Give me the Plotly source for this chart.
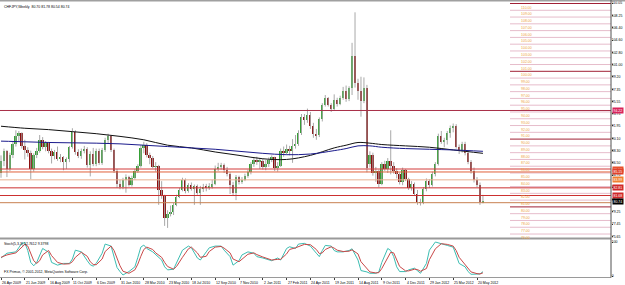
import pandas as pd
import plotly.graph_objects as go

# ---------------- data ----------------
FIRST_WEEK = "2009-04-26"
opens = [85.0, 86.8, 88.2, 85.6, 87.6, 89.3, 90.4, 90.9, 89.0, 88.4,
         88.0, 85.6, 87.6, 88.3, 89.9, 88.9, 89.4, 88.2, 87.5, 88.1,
         87.0, 87.3, 86.6, 87.0, 88.8, 91.1, 88.1, 87.5, 88.3, 88.6,
         86.2, 87.8, 86.4, 88.3, 86.5, 88.4, 89.9, 90.4, 88.4, 85.3,
         83.4, 82.9, 84.0, 84.4, 83.3, 84.3, 85.3, 86.0, 88.7, 89.2,
         87.6, 87.2, 85.9, 86.0, 82.5, 81.6, 78.4, 78.9, 79.3, 80.3,
         81.5, 82.5, 84.0, 82.3, 83.2, 82.7, 83.1, 82.1, 82.6, 83.0,
         82.8, 83.0, 83.4, 85.6, 85.9, 86.2, 85.5, 84.9, 83.3, 82.0,
         84.4, 83.6, 84.0, 84.6, 85.1, 86.3, 86.9, 86.7, 86.8, 85.9,
         86.3, 86.9, 87.3, 85.7, 86.1, 88.3, 87.9, 88.6, 88.2, 89.0,
         89.3, 90.9, 93.3, 92.8, 93.6, 92.0, 90.8, 90.6, 92.9, 95.0,
         96.0, 95.1, 94.4, 95.8, 95.2, 96.1, 97.1, 95.9, 97.5, 102.2,
         98.3, 97.1, 95.6, 97.6, 86.3, 87.6, 85.0, 85.3, 83.4, 86.3,
         85.6, 86.7, 86.0, 85.3, 84.9, 83.6, 85.4, 84.1, 82.8, 83.4,
         81.9, 80.7, 80.6, 82.7, 83.8, 83.3, 84.8, 86.3, 90.4, 89.6,
         89.9, 90.9, 91.6, 91.9, 88.9, 88.3, 89.3, 88.0, 86.6, 85.3,
         84.0, 83.3, 80.70]
highs = [87.6, 88.6, 88.4, 88.0, 89.6, 91.3, 91.2, 91.0, 89.9, 88.8,
         88.3, 87.9, 88.7, 90.6, 90.3, 89.7, 89.6, 88.6, 88.4, 88.9,
         87.8, 87.5, 87.3, 89.0, 91.6, 91.3, 88.5, 88.6, 89.0, 88.8,
         88.2, 88.7, 88.6, 88.6, 88.7, 90.2, 90.8, 90.6, 88.6, 85.6,
         84.0, 84.3, 84.8, 84.6, 84.6, 85.6, 86.3, 89.1, 89.6, 89.4,
         88.0, 87.5, 86.6, 86.2, 83.8, 81.8, 79.5, 80.2, 80.6, 81.8,
         82.8, 84.3, 84.2, 83.5, 83.6, 83.3, 83.3, 83.1, 83.4, 83.4,
         83.5, 84.0, 86.1, 86.5, 86.5, 86.4, 85.9, 85.1, 83.7, 84.7,
         84.6, 84.4, 84.9, 85.5, 86.6, 87.3, 87.4, 87.2, 87.1, 86.9,
         87.3, 87.6, 87.4, 86.6, 88.6, 88.9, 89.2, 89.0, 90.0, 90.6,
         91.3, 93.7, 93.7, 94.5, 94.0, 92.4, 91.5, 93.2, 95.3, 96.5,
         96.2, 95.3, 96.6, 96.1, 96.4, 97.7, 97.9, 97.8, 104.2, 108.7,
         98.9, 99.2, 99.1, 98.0, 88.2, 88.0, 85.9, 85.5, 86.6, 86.8,
         87.2, 91.3, 86.6, 85.7, 85.1, 85.8, 85.6, 84.3, 83.8, 83.6,
         82.5, 81.2, 82.9, 84.2, 84.1, 85.2, 86.6, 90.8, 91.2, 90.2,
         91.2, 92.0, 92.3, 92.2, 89.2, 89.6, 89.6, 88.3, 86.9, 85.8,
         84.4, 83.6, 81.78]
lows = [84.3, 86.0, 84.4, 85.3, 87.2, 88.9, 89.6, 88.6, 87.0, 87.4,
        84.1, 85.2, 87.2, 88.0, 88.5, 88.2, 87.9, 86.4, 87.0, 86.8,
        86.6, 85.4, 85.6, 86.6, 88.6, 87.7, 87.2, 87.1, 87.9, 85.8,
        84.5, 86.0, 86.0, 86.2, 86.2, 88.1, 89.3, 88.1, 85.0, 82.8,
        82.6, 82.6, 82.1, 83.0, 83.0, 84.0, 85.0, 85.8, 87.9, 87.3,
        86.3, 85.7, 85.2, 80.3, 81.2, 77.2, 76.9, 78.6, 78.8, 80.1,
        81.3, 82.3, 82.0, 82.1, 82.4, 80.3, 81.8, 80.3, 82.2, 82.3,
        82.5, 82.7, 83.2, 85.3, 85.5, 85.0, 84.5, 81.9, 81.6, 81.0,
        83.3, 83.4, 83.8, 84.3, 84.8, 85.9, 86.2, 85.6, 85.5, 85.4,
        85.9, 86.6, 85.3, 85.2, 85.9, 87.4, 87.7, 87.6, 86.5, 88.6,
        89.0, 90.6, 92.1, 92.4, 91.5, 90.2, 89.9, 90.3, 92.6, 94.8,
        94.8, 94.0, 94.3, 94.8, 95.0, 95.8, 95.5, 95.6, 96.5, 97.6,
        95.8, 93.3, 95.3, 85.1, 85.8, 84.6, 83.7, 82.9, 83.2, 85.3,
        85.0, 84.8, 84.9, 84.2, 83.3, 83.2, 83.8, 82.5, 82.4, 81.6,
        80.3, 80.2, 80.4, 82.3, 82.8, 83.0, 84.5, 86.1, 89.3, 88.8,
        89.2, 90.2, 91.0, 88.6, 87.8, 88.0, 87.6, 86.3, 84.9, 83.6,
        82.9, 80.3, 80.54]
closes = [86.8, 88.2, 85.6, 87.6, 89.3, 90.4, 90.9, 89.0, 88.4, 88.0,
          85.6, 87.6, 88.3, 89.9, 88.9, 89.4, 88.2, 87.5, 88.1, 87.0,
          87.3, 86.6, 87.0, 88.8, 91.1, 88.1, 87.5, 88.3, 88.6, 86.2,
          87.8, 86.4, 88.3, 86.5, 88.4, 89.9, 90.4, 88.4, 85.3, 83.4,
          82.9, 84.0, 84.4, 83.3, 84.3, 85.3, 86.0, 88.7, 89.2, 87.6,
          87.2, 85.9, 86.0, 82.5, 81.6, 78.4, 78.9, 79.3, 80.3, 81.5,
          82.5, 84.0, 82.3, 83.2, 82.7, 83.1, 82.1, 82.6, 83.0, 82.8,
          83.0, 83.4, 85.6, 85.9, 86.2, 85.5, 84.9, 83.3, 82.0, 84.4,
          83.6, 84.0, 84.6, 85.1, 86.3, 86.9, 86.7, 86.8, 85.9, 86.3,
          86.9, 87.3, 85.7, 86.1, 88.3, 87.9, 88.6, 88.2, 89.0, 89.3,
          90.9, 93.3, 92.8, 93.6, 92.0, 90.8, 90.6, 92.9, 95.0, 96.0,
          95.1, 94.4, 95.8, 95.2, 96.1, 97.1, 95.9, 97.5, 102.2, 98.3,
          97.1, 95.6, 97.6, 85.8, 87.6, 85.0, 85.3, 83.4, 86.3, 85.6,
          86.7, 86.0, 85.3, 84.9, 83.6, 85.4, 84.1, 82.8, 83.4, 81.9,
          80.7, 80.6, 82.7, 83.8, 83.3, 84.8, 86.3, 90.4, 89.6, 89.9,
          90.9, 91.6, 91.9, 88.9, 88.3, 89.3, 88.0, 86.6, 85.3, 84.0,
          83.3, 80.7, 80.74]

ma_weeks = [0, 8, 16, 24, 32, 40, 48, 56, 64, 72, 80, 88, 96, 104, 112,
            116, 120, 124, 128, 136, 144, 152, 162]
ma_black = [91.9, 91.6, 91.4, 91.1, 90.8, 90.4, 89.9, 89.1, 88.7, 88.1,
            87.6, 87.1, 87.0, 87.6, 88.7, 89.1, 89.5, 89.4, 89.2, 89.0,
            88.8, 88.4, 87.9]
ma_navy = [89.7, 89.6, 89.5, 89.45, 89.4, 89.3, 89.1, 88.9, 88.7, 88.5,
           88.2, 87.9, 87.7, 87.8, 88.3, 88.6, 89.0, 89.0, 88.8, 88.6,
           88.5, 88.4, 88.2]

stoch_weeks = [0, 2, 5, 7, 8, 9, 10, 11, 12, 13, 14, 16, 17, 19, 21, 23, 24,
               25, 27, 29, 30, 31, 32, 34, 35, 37, 38, 39, 40, 41, 43, 45,
               46, 47, 48, 49, 51, 52, 54, 55, 56, 58, 59, 61, 63, 64, 66,
               67, 69, 70, 72, 74, 75, 77, 78, 80, 81, 83, 85, 86, 88, 90,
               91, 93, 94, 96, 97, 99, 100, 102, 104, 106, 107, 108, 109,
               111, 112, 113, 115, 117, 118, 120, 121, 123, 124, 126, 127,
               128, 130, 131, 132, 133, 134, 136, 137, 139, 140, 141, 143,
               144, 146, 148, 150, 152, 153, 154, 156, 157, 158, 160, 161,
               162]
stoch_main = [53, 67, 71, 96, 98, 75, 40, 30, 40, 60, 81, 70, 40, 32, 37, 37,
              50, 76, 71, 45, 33, 29, 37, 67, 94, 88, 55, 25, 13, 3, 13, 27,
              55, 85, 91, 81, 71, 62, 47, 27, 18, 20, 40, 76, 88, 83, 53, 47,
              71, 83, 88, 88, 76, 57, 32, 45, 62, 71, 67, 57, 53, 47, 45, 53,
              47, 81, 86, 81, 94, 96, 88, 67, 57, 75, 90, 88, 75, 71, 71, 75,
              80, 47, 16, 12, 8, 8, 12, 40, 81, 75, 57, 27, 13, 13, 18, 23,
              15, 8, 37, 76, 100, 96, 90, 85, 62, 37, 27, 13, 5, 5, 6, 12.76]
stoch_signal = [55, 62, 68, 85, 93, 88, 65, 45, 37, 45, 62, 75, 60, 40, 35,
                36, 42, 55, 70, 58, 42, 34, 33, 50, 72, 88, 75, 52, 30, 14, 8,
                18, 35, 58, 78, 85, 78, 68, 55, 40, 28, 20, 28, 55, 80, 85,
                68, 55, 58, 72, 85, 87, 82, 68, 50, 42, 50, 64, 68, 63, 56,
                50, 47, 49, 49, 65, 78, 83, 87, 93, 92, 78, 66, 68, 78, 86,
                82, 76, 72, 73, 77, 65, 42, 20, 12, 9, 10, 22, 55, 70, 68, 48,
                28, 15, 15, 20, 19, 14, 22, 48, 80, 95, 93, 88, 75, 55, 35,
                22, 12, 7, 6, 9.38]

hline_values = [94.22, 85.59, 85.15, 83.99, 82.81, 81.68, 80.62]
current_price = 80.74
fib_levels = [110, 109, 108, 107, 106, 105, 104, 103, 102, 101, 100, 99, 98,
              97, 96, 95, 94, 93, 92, 91, 90, 89, 88, 87, 86, 85, 84, 83, 82,
              81, 80, 79, 78, 77, 76]
price_tick_labels = ["75.65", "77.45", "79.25", "81.05", "82.90", "84.70",
                     "86.50", "88.30", "90.10", "91.95", "93.75", "95.55",
                     "97.35", "99.20", "101.00", "102.80", "104.60", "106.40",
                     "108.25", "110.05"]
date_labels = ["26 Apr 2009", "21 Jun 2009", "16 Aug 2009", "11 Oct 2009",
               "6 Dec 2009", "31 Jan 2010", "28 Mar 2010", "23 May 2010",
               "18 Jul 2010", "12 Sep 2010", "7 Nov 2010", "2 Jan 2011",
               "27 Feb 2011", "24 Apr 2011", "19 Jun 2011", "14 Aug 2011",
               "9 Oct 2011", "4 Dec 2011", "29 Jan 2012", "25 Mar 2012",
               "20 May 2012"]
title_text = "CHFJPY,Weekly  80.70 81.78 80.54 80.74"
stoch_text = "Stoch(5,3,3) 12.7612 9.3798"
copyright_text = "FX Primus, © 2001-2012, MetaQuotes Software Corp."

# ---------------- styles / layout constants ----------------
W, H = 625, 285
AX_X = 611          # right axis line (px)
MAIN_TOP, MAIN_BOT = 1, 238
ST_TOP, ST_BOT = 240, 277
FONT = "Liberation Sans"
FS = 3.5
BULL, BEAR, WICK = "#35a035", "#8b0f0f", "#a8a8a8"
hline_colors = ["#a83048", "#d23a3a", "#e0603a", "#e8b090", "#cc3030",
                "#cc3030", "#c88050"]
hline_box = ["#d8245a", "#e8502a", "#e0402a", "#f08030", "#d02828",
             "#d02828"]
FIB_LINE, FIB_DARK, FIB_TEXT = "#e6bccb", "#a02035", "#eea33a"


def px_x(p):
    return p / W


def px_y(p):
    return 1 - p / H


d0 = pd.Timestamp(FIRST_WEEK)
week = pd.Timedelta(days=7)
dates = [d0 + i * week for i in range(len(closes))]
ma_dates = [d0 + i * week for i in ma_weeks]
st_dates = [d0 + i * week for i in stoch_weeks]

bar_px = 2.975
x_start = d0 - week * (1 / bar_px)
x_end = d0 + week * ((AX_X - 1) / bar_px)

fig = go.Figure()

# wicks
wx, wy = [], []
for d, hi, lo in zip(dates, highs, lows):
    wx += [d, d, None]
    wy += [lo, hi, None]
fig.add_trace(go.Scatter(x=wx, y=wy, mode="lines",
                         line=dict(color=WICK, width=1), hoverinfo="skip",
                         showlegend=False, xaxis="x", yaxis="y"))
# bodies
base = [min(o, c) for o, c in zip(opens, closes)]
size = [max(abs(c - o), 0.06) for o, c in zip(opens, closes)]
cols = [BULL if c >= o else BEAR for o, c in zip(opens, closes)]
fig.add_trace(go.Bar(x=dates, y=size, base=base,
                     marker=dict(color=cols, line=dict(width=0)),
                     width=0.62 * 7 * 86400000, showlegend=False,
                     xaxis="x", yaxis="y"))
# moving averages
fig.add_trace(go.Scatter(x=ma_dates, y=ma_black, mode="lines",
                         line=dict(color="#111111", width=1, shape="spline"),
                         showlegend=False, xaxis="x", yaxis="y"))
fig.add_trace(go.Scatter(x=ma_dates, y=ma_navy, mode="lines",
                         line=dict(color="#1a1a8c", width=1, shape="spline"),
                         showlegend=False, xaxis="x", yaxis="y"))
# stochastic
fig.add_trace(go.Scatter(x=st_dates, y=stoch_main, mode="lines",
                         line=dict(color="#3cbdb2", width=1),
                         showlegend=False, xaxis="x2", yaxis="y2"))
fig.add_trace(go.Scatter(x=st_dates, y=stoch_signal, mode="lines",
                         line=dict(color="#c84848", width=1),
                         showlegend=False, xaxis="x2", yaxis="y2"))

shapes = []
annotations = []

# fibonacci levels
for lv in fib_levels:
    dark = lv % 10 == 0
    shapes.append(dict(type="line", xref="paper", yref="y",
                       x0=px_x(510), x1=px_x(AX_X), y0=lv, y1=lv,
                       line=dict(color=FIB_DARK if dark else FIB_LINE, width=1)))
    annotations.append(dict(xref="paper", yref="y", x=px_x(519), y=lv,
                            xanchor="left", yanchor="top", showarrow=False,
                            text=f"{lv:.2f}",
                            font=dict(family=FONT, size=FS, color=FIB_TEXT)))

# horizontal lines
for v, c in zip(hline_values, hline_colors):
    shapes.append(dict(type="line", xref="paper", yref="y", x0=0, x1=px_x(AX_X),
                       y0=v, y1=v, line=dict(color=c, width=1)))
for v, c in zip(hline_values, hline_box):
    annotations.append(dict(xref="paper", yref="y", x=px_x(AX_X + 1), y=v,
                            xanchor="left", yanchor="middle", showarrow=False,
                            text=f"{v:.2f}", bgcolor=c, borderpad=0.5,
                            font=dict(family=FONT, size=FS, color="white")))
annotations.append(dict(xref="paper", yref="y", x=px_x(AX_X + 1), y=current_price,
                        xanchor="left", yanchor="middle", showarrow=False,
                        text=f"{current_price:.2f}", bgcolor="#000000", borderpad=0.5,
                        font=dict(family=FONT, size=FS, color="white")))

# borders / separators
shapes += [
    dict(type="line", xref="paper", yref="paper", x0=0, x1=1, y0=px_y(0.5), y1=px_y(0.5),
         line=dict(color="#a0a0a0", width=2)),
    dict(type="line", xref="paper", yref="paper", x0=0, x1=px_x(AX_X),
         y0=px_y(238.5), y1=px_y(238.5), line=dict(color="#9a9a9a", width=2)),
    dict(type="line", xref="paper", yref="paper", x0=0, x1=px_x(AX_X),
         y0=px_y(277.5), y1=px_y(277.5), line=dict(color="#9a9a9a", width=1)),
    dict(type="line", xref="paper", yref="paper", x0=px_x(AX_X), x1=px_x(AX_X),
         y0=px_y(0), y1=px_y(277.5), line=dict(color="#505050", width=1)),
]

# texts
annotations.append(dict(xref="paper", yref="paper", x=px_x(2), y=px_y(2.5), xanchor="left",
                        yanchor="top", showarrow=False, text=title_text,
                        font=dict(family=FONT, size=FS, color="#000000")))
annotations.append(dict(xref="paper", yref="paper", x=px_x(2), y=px_y(240), xanchor="left",
                        yanchor="top", showarrow=False, text=stoch_text,
                        font=dict(family=FONT, size=FS, color="#000000")))
annotations.append(dict(xref="paper", yref="paper", x=px_x(2), y=px_y(276), xanchor="left",
                        yanchor="bottom", showarrow=False, text=copyright_text,
                        font=dict(family=FONT, size=FS, color="#000000")))
for lab in date_labels:
    annotations.append(dict(xref="x2", yref="paper", x=pd.Timestamp(lab), y=px_y(278.5),
                            xanchor="left", yanchor="top", showarrow=False, text=lab,
                            xshift=-1, font=dict(family=FONT, size=FS, color="#000000")))

fig.update_layout(
    width=W, height=H, margin=dict(l=0, r=0, t=0, b=0),
    paper_bgcolor="white", plot_bgcolor="white", template="none",
    showlegend=False, bargap=0, shapes=shapes, annotations=annotations,
    xaxis=dict(domain=[0, px_x(AX_X)], range=[x_start, x_end], type="date",
               showticklabels=False, showgrid=False, zeroline=False, showline=False,
               ticks="", anchor="y", automargin=False),
    xaxis2=dict(domain=[0, px_x(AX_X)], range=[x_start, x_end], type="date",
                matches="x", showticklabels=False, showgrid=False, zeroline=False,
                tickvals=[pd.Timestamp(l) for l in date_labels], ticks="outside",
                ticklen=2, tickcolor="#404040", anchor="y2", automargin=False),
    yaxis=dict(domain=[px_y(MAIN_BOT), px_y(MAIN_TOP)],
               range=[100 - (MAIN_BOT - 71.3) / 6.78, 100 - (MAIN_TOP - 71.3) / 6.78],
               side="right", anchor="x", showgrid=False, zeroline=False,
               tickvals=[float(t) for t in price_tick_labels], ticktext=price_tick_labels,
               ticks="outside", ticklen=1, tickcolor="#404040", ticklabelstandoff=-2,
               tickfont=dict(family=FONT, size=FS, color="#000000"), automargin=False),
    yaxis2=dict(domain=[px_y(ST_BOT), px_y(ST_TOP)], range=[-2.9, 105.9],
                side="right", anchor="x2", showgrid=False, zeroline=False,
                tickvals=[0, 100], ticktext=["0", "100"], ticks="outside", ticklen=1,
                ticklabelstandoff=-2,
                tickcolor="#404040", tickfont=dict(family=FONT, size=FS, color="#000000"),
                automargin=False),
)

fig.write_html("out.html")
